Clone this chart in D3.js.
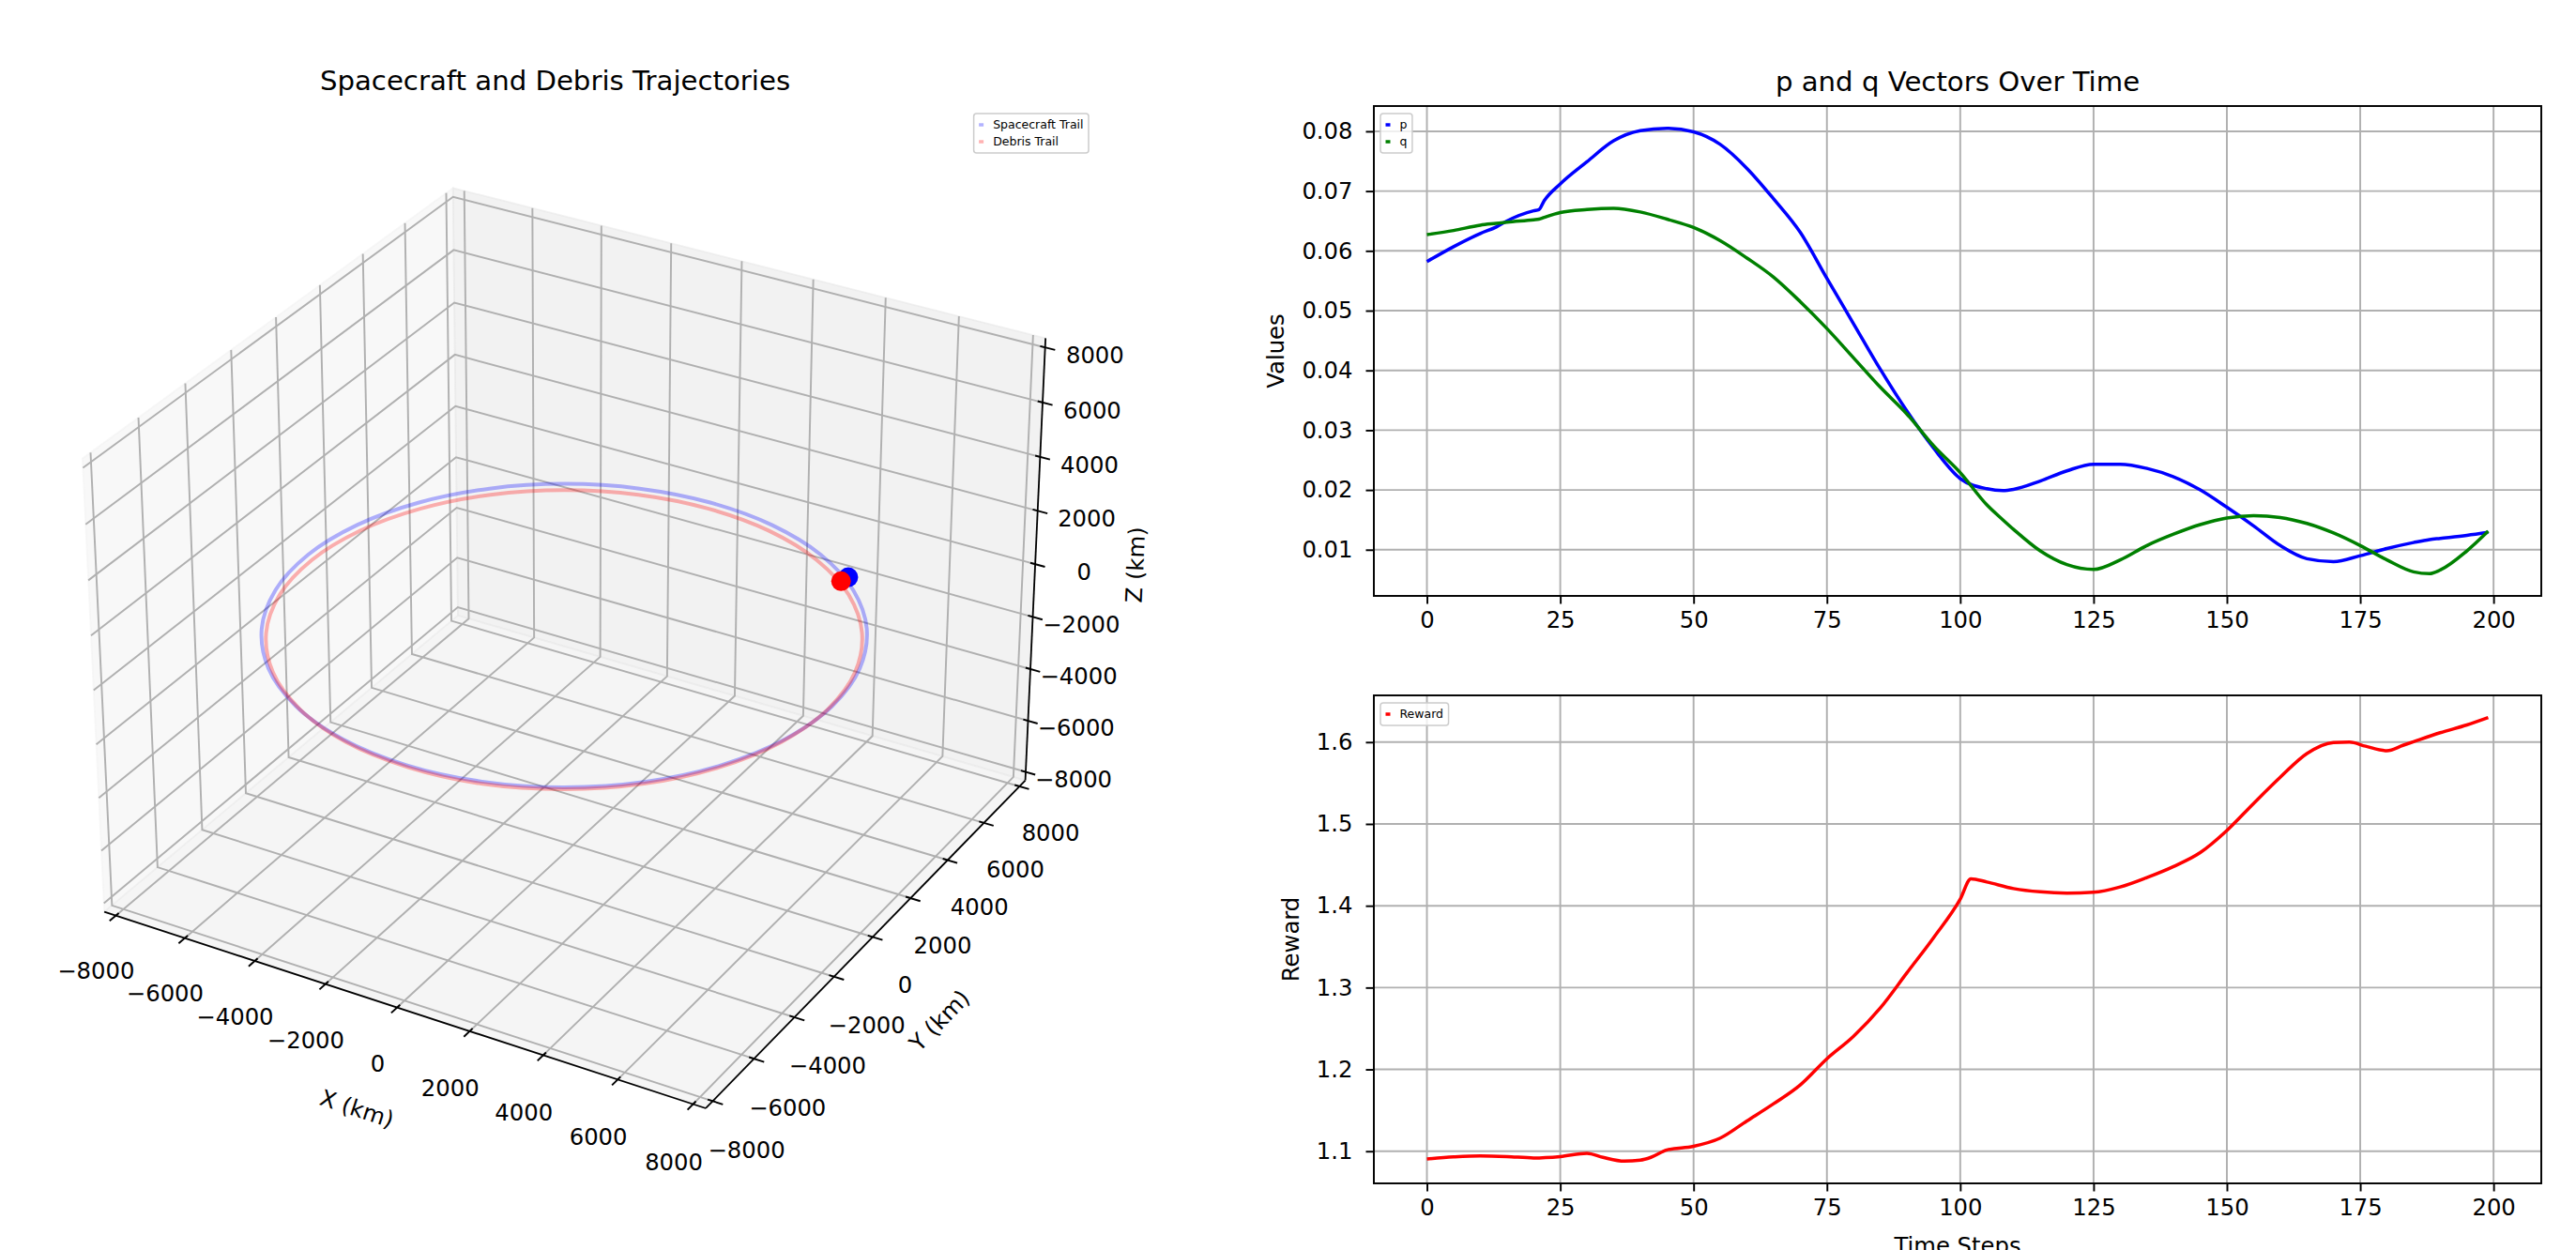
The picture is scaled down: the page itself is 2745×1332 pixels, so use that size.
<!DOCTYPE html>
<html>
<head>
<meta charset="utf-8">
<script src="https://cdn.jsdelivr.net/npm/d3@7"></script>
<style>
  body { margin: 0; background: #fff; }
  svg text { font-family: "DejaVu Sans", sans-serif; fill: #000; }
</style>
</head>
<body>
<svg id="fig" width="2745" height="1332"></svg>
<script>
// ---- data ----
const pqSteps = [0, 5, 10, 13, 15, 20, 21, 22, 25, 30, 35, 40, 45, 50, 55, 60, 65, 70, 75, 80, 85, 90, 95,
  100, 105, 108, 110, 115, 120, 125, 130, 135, 140, 145, 150, 155, 160, 165, 170, 175, 180, 185, 188, 190, 195, 199];
const pValues = [0.0582, 0.0607, 0.0629, 0.0640, 0.0650, 0.0667, 0.0669, 0.0684, 0.0712, 0.0749, 0.0784, 0.0801, 0.0805,
  0.0799, 0.0778, 0.0738, 0.0687, 0.0631, 0.0554, 0.0478, 0.0402, 0.0332, 0.0270,
  0.0219, 0.0202, 0.0199, 0.0201, 0.0215, 0.0232, 0.0243, 0.0243, 0.0236, 0.0222, 0.0200, 0.0171, 0.0140,
  0.0107, 0.0085, 0.0080, 0.0090, 0.0102, 0.0112, 0.0117, 0.0119, 0.0124, 0.0129];
const qValues = [0.0627, 0.0634, 0.0643, 0.0646, 0.0648, 0.0652, 0.0653, 0.0656, 0.0664, 0.0669, 0.0671, 0.0665, 0.0653,
  0.0639, 0.0617, 0.0588, 0.0556, 0.0515, 0.0470, 0.0421, 0.0372, 0.0327, 0.0274,
  0.0229, 0.0175, 0.0150, 0.0134, 0.0098, 0.0075, 0.0067, 0.0083, 0.0107, 0.0126, 0.0142, 0.0153, 0.0157,
  0.0154, 0.0144, 0.0128, 0.0107, 0.0083, 0.0063, 0.0060, 0.0066, 0.0098, 0.0131];

const rewardSteps = [0, 5, 10, 15, 20, 25, 30, 33, 37, 40, 42, 45, 50, 55, 60, 65, 70, 75, 80, 85, 90, 95,
  100, 102, 105, 110, 115, 120, 125, 130, 135, 140, 145, 150, 155, 160, 165, 170, 173, 176, 180, 183, 185, 190, 195, 199];
const rewardValues = [1.0905, 1.0930, 1.0943, 1.0935, 1.0918, 1.0935, 1.0975, 1.0925, 1.0878, 1.0890, 1.0925, 1.1015,
  1.1060, 1.1160, 1.1370, 1.1580, 1.1810, 1.2130, 1.2405, 1.2750, 1.3180, 1.3610,
  1.4080, 1.4330, 1.4290, 1.4210, 1.4170, 1.4155, 1.4165, 1.4230, 1.4345, 1.4480, 1.4650, 1.4920,
  1.5250, 1.5570, 1.5860, 1.5995, 1.6000, 1.5950, 1.5895, 1.5960, 1.6005, 1.6115, 1.6210, 1.6300];

const stepTicks = [0, 25, 50, 75, 100, 125, 150, 175, 200];
const valueTicks = [0.01, 0.02, 0.03, 0.04, 0.05, 0.06, 0.07, 0.08];
const rewardTicks = [1.1, 1.2, 1.3, 1.4, 1.5, 1.6];

// 3D orbit trails, km [x, y, z]
const kmLimits = [-8000, 8000];
const kmTicks = [-8000, -6000, -4000, -2000, 0, 2000, 4000, 6000, 8000];
const spacecraftTrail = [
  [7130, -110, -100], [6880, 1784, -100], [6149, 3550, -100], [4986, 5066, -100],
  [3470, 6229, -100], [1704, 6960, -100], [-190, 7210, -100], [-2084, 6960, -100],
  [-3850, 6229, -100], [-5366, 5066, -100], [-6529, 3550, -100], [-7260, 1784, -100],
  [-7510, -110, -100], [-7260, -2004, -100], [-6529, -3770, -100], [-5366, -5286, -100],
  [-3850, -6449, -100], [-2084, -7180, -100], [-190, -7430, -100], [1704, -7180, -100],
  [3470, -6449, -100], [4986, -5286, -100], [6149, -3770, -100], [6880, -2004, -100]
];
const debrisTrail = [
  [7110, -290, -100], [6865, 1573, -100], [6145, 3310, -100], [5001, 4801, -100],
  [3510, 5945, -100], [1773, 6665, -100], [-90, 6910, -100], [-1953, 6665, -100],
  [-3690, 5945, -100], [-5181, 4801, -100], [-6325, 3310, -100], [-7045, 1573, -100],
  [-7290, -290, -100], [-7045, -2153, -100], [-6325, -3890, -100], [-5181, -5381, -100],
  [-3690, -6525, -100], [-1953, -7255, -100], [-90, -7490, -100], [1773, -7255, -100],
  [3510, -6525, -100], [5001, -5381, -100], [6145, -3890, -100], [6865, -2153, -100]
];
const spacecraftNow = [4708, 5330, 100];
const debrisNow = [4586, 5185, 0];

// ---- common ----
const svg = d3.select("#fig");
const FS = 24.3;      // 10pt
const TITLE_FS = 29.2;
const LW = 1.94;

function padExtent(vals, frac) {
  const [a, b] = d3.extent(vals);
  const m = (b - a) * frac;
  return [a - m, b + m];
}

function drawLegend(items, x, y, alignRight) {
  const fs = 12.5, bp = 5.5, rowH = 13, rowStep = 18, hw = 5, gap = 10;
  const g = svg.append("g");
  const frame = g.append("rect");
  const texts = items.map(it => g.append("text").attr("font-size", fs).text(it.label));
  const tw = d3.max(texts, t => t.node().getComputedTextLength());
  const w = bp + hw + gap + tw + bp;
  const h = 2 * bp + rowH + (items.length - 1) * rowStep;
  const x0 = alignRight ? x - w : x;
  frame.attr("x", x0).attr("y", y).attr("width", w).attr("height", h)
    .attr("rx", 3).attr("fill", "#fff").attr("fill-opacity", 0.8)
    .attr("stroke", "#cccccc").attr("stroke-width", 1.5);
  items.forEach((it, i) => {
    const cy = y + bp + rowH / 2 + i * rowStep;
    g.append("line").attr("x1", x0 + bp).attr("x2", x0 + bp + hw).attr("y1", cy).attr("y2", cy)
      .attr("stroke", it.color).attr("stroke-opacity", it.opacity || 1).attr("stroke-width", 3.5);
    texts[i].attr("x", x0 + bp + hw + gap).attr("y", cy).attr("dy", "0.35em");
  });
}

// ---- 2D line charts ----
function drawLineChart(o) {
  const x = d3.scaleLinear().domain(padExtent(o.steps, 0.05)).range([o.left, o.right]);
  const y = d3.scaleLinear().domain(padExtent(o.series.flatMap(s => s.values), 0.05)).range([o.bottom, o.top]);
  const g = svg.append("g");

  svg.append("clipPath").attr("id", "clip-" + o.id).append("rect")
    .attr("x", o.left).attr("y", o.top).attr("width", o.right - o.left).attr("height", o.bottom - o.top);

  // grid
  g.append("g").selectAll("line").data(o.xTicks).join("line")
    .attr("x1", d => x(d)).attr("x2", d => x(d)).attr("y1", o.top).attr("y2", o.bottom)
    .attr("stroke", "#b0b0b0").attr("stroke-width", LW);
  g.append("g").selectAll("line").data(o.yTicks).join("line")
    .attr("x1", o.left).attr("x2", o.right).attr("y1", d => y(d)).attr("y2", d => y(d))
    .attr("stroke", "#b0b0b0").attr("stroke-width", LW);

  // series
  o.series.forEach(s => {
    const line = d3.line().x((d, i) => x(o.steps[i])).y(d => y(d)).curve(d3.curveMonotoneX);
    g.append("path").datum(s.values).attr("d", line)
      .attr("fill", "none").attr("stroke", s.color).attr("stroke-width", 3.5)
      .attr("stroke-linejoin", "round").attr("clip-path", `url(#clip-${o.id})`);
  });

  // axes
  const xAxis = g.append("g").attr("transform", `translate(0,${o.bottom})`)
    .call(d3.axisBottom(x).tickValues(o.xTicks).tickSize(8.5).tickPadding(8.5));
  const yAxis = g.append("g").attr("transform", `translate(${o.left},0)`)
    .call(d3.axisLeft(y).tickValues(o.yTicks).tickFormat(d3.format(o.yFormat)).tickSize(8.5).tickPadding(14));
  [xAxis, yAxis].forEach(a => {
    a.select(".domain").remove();
    a.attr("font-size", FS).attr("font-family", "DejaVu Sans").attr("color", "#000");
    a.selectAll(".tick line").attr("stroke-width", LW);
  });

  // spines
  g.append("rect").attr("x", o.left).attr("y", o.top)
    .attr("width", o.right - o.left).attr("height", o.bottom - o.top)
    .attr("fill", "none").attr("stroke", "#000").attr("stroke-width", LW);

  // labels
  const yb = yAxis.node().getBBox();
  g.append("text").attr("transform", `translate(${o.left + yb.x - 19},${(o.top + o.bottom) / 2}) rotate(-90)`)
    .attr("text-anchor", "middle").attr("font-size", FS).text(o.yLabel);
  if (o.xLabel) {
    g.append("text").attr("x", (o.left + o.right) / 2).attr("y", o.bottom + 75)
      .attr("text-anchor", "middle").attr("font-size", FS).text(o.xLabel);
  }
  if (o.title) {
    g.append("text").attr("x", (o.left + o.right) / 2).attr("y", o.top - 16)
      .attr("text-anchor", "middle").attr("font-size", TITLE_FS).text(o.title);
  }
  drawLegend(o.series.map(s => ({ label: s.label, color: s.color })), o.left + 7, o.top + 8, false);
}

drawLineChart({
  id: "pq", left: 1464, right: 2708, top: 113, bottom: 635,
  steps: pqSteps, xTicks: stepTicks, yTicks: valueTicks, yFormat: ".2f",
  series: [
    { label: "p", color: "#0000ff", values: pValues },
    { label: "q", color: "#008000", values: qValues }
  ],
  yLabel: "Values", title: "p and q Vectors Over Time"
});

drawLineChart({
  id: "reward", left: 1464, right: 2708, top: 741, bottom: 1261,
  steps: rewardSteps, xTicks: stepTicks, yTicks: rewardTicks, yFormat: ".1f",
  series: [{ label: "Reward", color: "#ff0000", values: rewardValues }],
  yLabel: "Reward", xLabel: "Time Steps"
});

// ---- 3D trajectories (matplotlib-style perspective, elev 30, azim -60) ----
const L3 = 25, T3 = 112, S3 = 1141;
const sub = (a, b) => a.map((v, i) => v - b[i]);
const dot = (a, b) => a[0] * b[0] + a[1] * b[1] + a[2] * b[2];
const cross = (a, b) => [a[1] * b[2] - a[2] * b[1], a[2] * b[0] - a[0] * b[2], a[0] * b[1] - a[1] * b[0]];
const unit = a => { const l = Math.hypot(...a); return a.map(v => v / l); };

const kAsp = 1.8294640721620434 / Math.sqrt(41);
const boxAspect = [4 * kAsp, 4 * kAsp, 3 * kAsp];
const world = boxAspect.map(a => d3.scaleLinear().domain(kmLimits).range([0, a]));
const elev = 30 * Math.PI / 180, azim = -60 * Math.PI / 180, camDist = 10;
const center = boxAspect.map(a => a / 2);
const dir = [Math.cos(elev) * Math.cos(azim), Math.cos(elev) * Math.sin(azim), Math.sin(elev)];
const eye = center.map((c, i) => c + camDist * dir[i]);
const wv = unit(sub(eye, center));
const uv = unit(cross([0, 0, 1], wv));
const vv = cross(wv, uv);
const sx3 = d3.scaleLinear().domain([-0.095, 0.09]).range([L3, L3 + S3]);
const sy3 = d3.scaleLinear().domain([-0.095, 0.09]).range([T3 + S3, T3]);

function proj(pt) {
  const d = sub(pt.map((c, i) => world[i](c)), eye);
  const zv = -dot(wv, d);
  return [sx3(dot(uv, d) / zv), sy3(dot(vv, d) / zv)];
}

const g3 = svg.append("g");
const span = kmLimits[1] - kmLimits[0];
const lo = kmLimits[0] - span / 48, hi = kmLimits[1] + span / 48;
const dTick = span / 12;
const poly = d3.line();

// panes
const panes = [
  { pts: [[lo, lo, lo], [lo, hi, lo], [lo, hi, hi], [lo, lo, hi]], c: "rgba(242,242,242,0.5)" },
  { pts: [[lo, hi, lo], [hi, hi, lo], [hi, hi, hi], [lo, hi, hi]], c: "rgba(230,230,230,0.5)" },
  { pts: [[lo, lo, lo], [hi, lo, lo], [hi, hi, lo], [lo, hi, lo]], c: "rgba(236,236,236,0.5)" }
];
g3.append("g").selectAll("path").data(panes).join("path")
  .attr("d", d => poly(d.pts.map(proj)) + "Z")
  .attr("fill", d => d.c).attr("stroke", d => d.c).attr("stroke-width", 1.7);

// grid
const gridLines = [];
kmTicks.forEach(t => {
  gridLines.push([[t, lo, lo], [t, hi, lo], [t, hi, hi]]);
  gridLines.push([[lo, t, hi], [lo, t, lo], [hi, t, lo]]);
  gridLines.push([[hi, hi, t], [lo, hi, t], [lo, lo, t]]);
});
g3.append("g").selectAll("path").data(gridLines).join("path")
  .attr("d", d => poly(d.map(proj))).attr("fill", "none")
  .attr("stroke", "#b0b0b0").attr("stroke-width", LW);

// axis lines and ticks
const axes3 = [
  { line: [[lo, lo, lo], [hi, lo, lo]],
    tick: t => [[t, lo + 0.1 * dTick, lo], [t, lo - 0.2 * dTick, lo]],
    lab: (t, o) => [t, lo - o, lo - o], mid: o => [0, lo - o, lo - o], title: "X (km)" },
  { line: [[hi, lo, lo], [hi, hi, lo]],
    tick: t => [[hi - 0.1 * dTick, t, lo], [hi + 0.2 * dTick, t, lo]],
    lab: (t, o) => [hi + o, t, lo - o], mid: o => [hi + o, 0, lo - o], title: "Y (km)" },
  { line: [[hi, hi, lo], [hi, hi, hi]],
    tick: t => [[hi - 0.1 * dTick, hi, t], [hi + 0.2 * dTick, hi, t]],
    lab: (t, o) => [hi + o, hi + o, t], mid: o => [hi + o, hi + o, 0], title: "Z (km)" }
];
const kmFmt = d => (d < 0 ? "\u2212" + Math.abs(d) : String(d));
axes3.forEach(a => {
  g3.append("path").attr("d", poly(a.line.map(proj)))
    .attr("stroke", "#000").attr("stroke-width", 1.8);
  g3.append("g").selectAll("path").data(kmTicks).join("path")
    .attr("d", t => poly(a.tick(t).map(proj)))
    .attr("stroke", "#000").attr("stroke-width", LW);
  g3.append("g").selectAll("text").data(kmTicks).join("text")
    .attr("x", t => proj(a.lab(t, 900))[0])
    .attr("y", t => proj(a.lab(t, 900))[1] + 15)
    .attr("dy", "0.35em").attr("text-anchor", "middle").attr("font-size", FS)
    .text(kmFmt);
  const [p0, p1] = a.line.map(proj);
  let ang = Math.atan2(p1[1] - p0[1], p1[0] - p0[0]) * 180 / Math.PI;
  if (ang > 90) ang -= 180;
  if (ang <= -90) ang += 180;
  const m = proj(a.mid(1850));
  g3.append("text")
    .attr("transform", `translate(${m[0]},${m[1] + 15}) rotate(${ang})`)
    .attr("dy", "0.35em").attr("text-anchor", "middle").attr("font-size", FS)
    .text(a.title);
});

// trails
const trailLine = d3.line().curve(d3.curveCatmullRomClosed.alpha(0.5));
g3.append("path").attr("d", trailLine(spacecraftTrail.map(proj)))
  .attr("fill", "none").attr("stroke", "#0000ff").attr("stroke-opacity", 0.3).attr("stroke-width", 4);
g3.append("path").attr("d", trailLine(debrisTrail.map(proj)))
  .attr("fill", "none").attr("stroke", "#ff0000").attr("stroke-opacity", 0.3).attr("stroke-width", 4);

// current positions
const sc = proj(spacecraftNow), db = proj(debrisNow);
g3.append("circle").attr("cx", sc[0]).attr("cy", sc[1]).attr("r", 10.5).attr("fill", "#0000ff");
g3.append("circle").attr("cx", db[0]).attr("cy", db[1]).attr("r", 10.5).attr("fill", "#ff0000");

g3.append("text").attr("x", L3 + S3 / 2 - 4).attr("y", 96)
  .attr("text-anchor", "middle").attr("font-size", TITLE_FS)
  .text("Spacecraft and Debris Trajectories");

drawLegend([
  { label: "Spacecraft Trail", color: "#0000ff", opacity: 0.3 },
  { label: "Debris Trail", color: "#ff0000", opacity: 0.3 }
], L3 + S3 - 6, T3 + 9, true);
</script>
</body>
</html>
